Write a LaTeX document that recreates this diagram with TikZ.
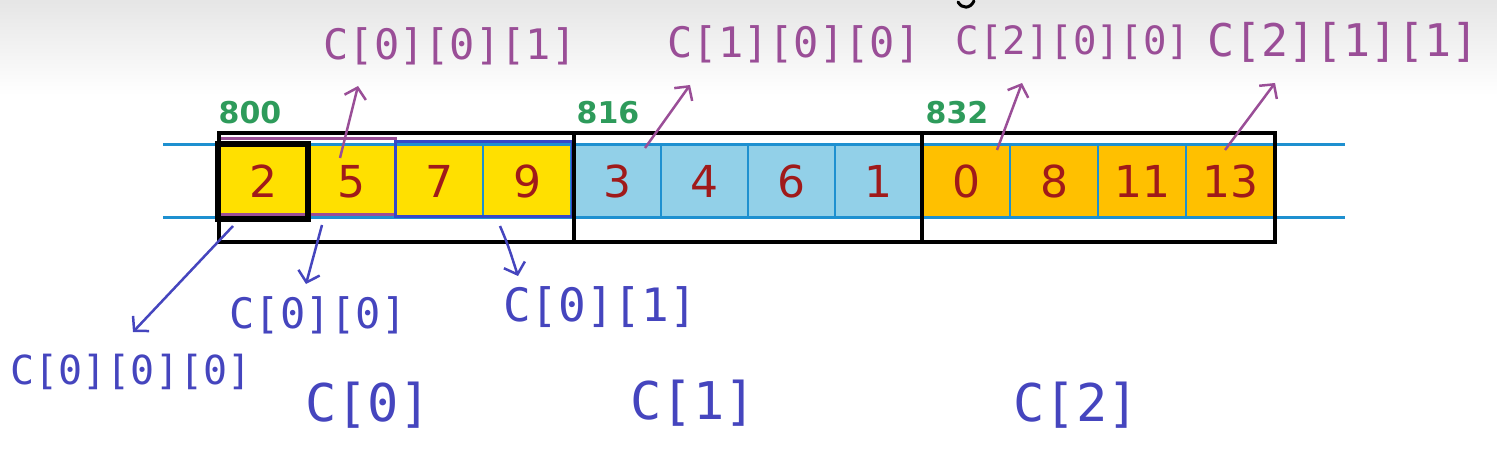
\documentclass[tikz,border=0pt]{standalone}
\usepackage{fontspec}
\setmainfont{DejaVu Sans}
\newfontfamily\handfont{DejaVu Sans Mono}
\usetikzlibrary{arrows.meta}
\definecolor{celly}{HTML}{FFE000}
\definecolor{cellb}{HTML}{92D0E8}
\definecolor{cello}{HTML}{FFC000}
\definecolor{numred}{HTML}{A01A1A}
\definecolor{addrgreen}{HTML}{2E9B5B}
\definecolor{idxpurple}{HTML}{9A4E97}
\definecolor{idxblue}{HTML}{4545BE}
\definecolor{lineblue}{HTML}{1E90D0}
\definecolor{grpblue}{HTML}{3548C8}
\tikzset{
	cell/.style={draw=lineblue, line width=2pt, minimum height=73pt, inner sep=0pt, text=numred, font=\fontsize{44}{44}\selectfont},
	addr/.style={text=addrgreen, font=\fontsize{30}{30}\selectfont\bfseries},
	uplabel/.style={text=idxpurple, inner sep=0pt, font=\handfont\fontsize{42}{42}\selectfont},
	downlabel/.style={text=idxblue, inner sep=0pt, font=\handfont\fontsize{42}{42}\selectfont},
	uparrow/.style={draw=idxpurple, line width=2.5pt, -{Straight Barb[length=10pt,width=22pt]}},
	downarrow/.style={draw=idxblue, line width=2.5pt, -{Straight Barb[length=10pt,width=22pt]}}
}

\begin{document}
\begin{tikzpicture}[x=1pt, y=-1pt]
			%%%%% START %%%%%
			\useasboundingbox (0, 0) rectangle (1497, 449);
			\shade[top color=gray!20, bottom color=white] (0, 0) rectangle (1497, 95);
			\draw[line width=3pt, line cap=round] (958, 2) .. controls (962, 9) and (970, 9) .. (974, 1);
			
			% cells of c[0]
			\node[cell, fill=celly, minimum width=88pt] (c000) at (263, 181.5) {2};
			\node[cell, fill=celly, minimum width=88pt] (c001) at (351, 181.5) {5};
			\node[cell, fill=celly, minimum width=88pt] (c010) at (439, 181.5) {7};
			\node[cell, fill=celly, minimum width=88pt] (c011) at (527, 181.5) {9};
			
			% cells of c[1]
			\node[cell, fill=cellb, minimum width=87pt] (c100) at (617.5, 181.5) {3};
			\node[cell, fill=cellb, minimum width=87pt] (c101) at (704.5, 181.5) {4};
			\node[cell, fill=cellb, minimum width=87pt] (c110) at (791.5, 181.5) {6};
			\node[cell, fill=cellb, minimum width=87pt] (c111) at (878.5, 181.5) {1};
			
			% cells of c[2]
			\node[cell, fill=cello, minimum width=88pt] (c200) at (966, 181.5) {0};
			\node[cell, fill=cello, minimum width=88pt] (c201) at (1054, 181.5) {8};
			\node[cell, fill=cello, minimum width=88pt] (c210) at (1142, 181.5) {11};
			\node[cell, fill=cello, minimum width=88pt] (c211) at (1230, 181.5) {13};
			
			\draw[lineblue, line width=3pt] (163, 145) -- (1345, 145);
			\draw[lineblue, line width=3pt] (163, 218) -- (1345, 218);
			
			\draw[idxpurple, line width=3pt] (219, 139) rectangle (395, 215);
			\draw[grpblue, line width=3pt] (395, 142) rectangle (572, 217);
			
			\draw[line width=3.5pt] (219, 133) rectangle (574, 242);
			\draw[line width=3.5pt] (574, 133) rectangle (922, 242);
			\draw[line width=3.5pt] (922, 133) rectangle (1275, 242);
			\draw[line width=6pt] (c000.north west) rectangle (c000.south east);
			
			\node[addr] (a800) at (250, 113) {800};
			\node[addr] (a816) at (608, 113) {816};
			\node[addr] (a832) at (957, 113) {832};
			
			% purple labels above
			\node[uplabel] (l001) at (450, 46) {C[0][0][1]};
			\node[uplabel] (l100) at (794, 44) {C[1][0][0]};
			\node[uplabel, font=\handfont\fontsize{39}{39}\selectfont] (l200) at (1073, 42) {C[2][0][0]};
			\node[uplabel, font=\handfont\fontsize{45}{45}\selectfont] (l211) at (1343, 42) {C[2][1][1]};
			
			\coordinate (t001) at (340, 158);
			\coordinate (h001) at (358, 86);
			\coordinate (t100) at (645, 148);
			\coordinate (h100) at (690, 85);
			\coordinate (t200) at (997, 150);
			\coordinate (h200) at (1022, 83);
			\coordinate (t211) at (1225, 150);
			\coordinate (h211) at (1275, 83);
			\draw[uparrow] (t001) -- (h001);
			\draw[uparrow] (t100) -- (h100);
			\draw[uparrow] (t200) -- (h200);
			\draw[uparrow] (t211) -- (h211);
			
			% blue labels below
			\node[downlabel, font=\handfont\fontsize{40}{40}\selectfont] (l000) at (131, 372) {C[0][0][0]};
			\node[downlabel] (l00) at (318, 315) {C[0][0]};
			\node[downlabel, font=\handfont\fontsize{46}{46}\selectfont] (l01) at (600, 307) {C[0][1]};
			\node[downlabel, font=\handfont\fontsize{52}{52}\selectfont] (l0) at (368, 405) {C[0]};
			\node[downlabel, font=\handfont\fontsize{52}{52}\selectfont] (l1) at (693, 403) {C[1]};
			\node[downlabel, font=\handfont\fontsize{52}{52}\selectfont] (l2) at (1076, 405) {C[2]};
			
			\coordinate (t000) at (233, 226);
			\coordinate (h000) at (133, 332);
			\coordinate (t00) at (322, 225);
			\coordinate (h00) at (306, 284);
			\coordinate (t01) at (500, 226);
			\coordinate (h01) at (518, 276);
			\draw[downarrow] (t000) -- (h000);
			\draw[downarrow] (t00) -- (h00);
			\draw[downarrow] (t01) .. controls (508, 245) .. (h01);
			%%%%% END %%%%%
\end{tikzpicture}
\end{document}
